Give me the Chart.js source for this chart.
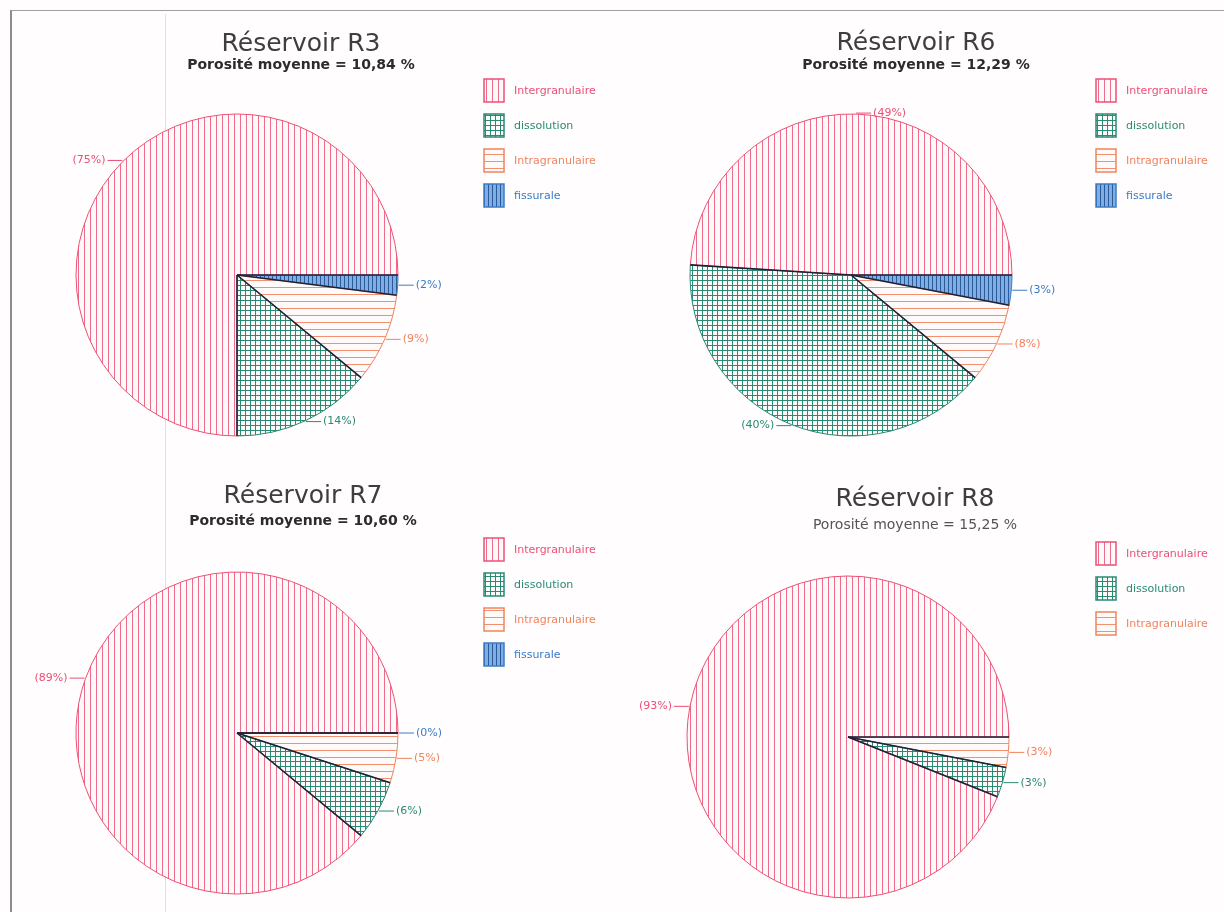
<!DOCTYPE html>
<html lang="fr">
<head>
<meta charset="utf-8">
<title>Porosité des réservoirs</title>
<script src="https://cdn.jsdelivr.net/npm/chart.js@4.4.0/dist/chart.umd.min.js"></script>
<style>
    html, body { margin: 0; padding: 0; background: #fffdfd; }
    body { width: 1224px; height: 912px; position: relative; overflow: hidden; font-family: 'DejaVu Sans', sans-serif; }
    .frame { position: absolute; left: 10px; top: 10px; width: 1240px; height: 940px; border-left: 2px solid #8c8c8c; border-top: 1px solid #a0a0a0; }
    .fold { position: absolute; left: 165px; top: 14px; width: 1px; height: 900px; background: #e4dfdf; }
    .panel { position: absolute; width: 612px; height: 456px; }
    .title { position: absolute; transform: translateX(-50%); white-space: nowrap; color: #3e3e3e; font-size: 25px; line-height: 1; }
    .sub { position: absolute; transform: translateX(-50%); white-space: nowrap; color: #2c2c2c; font-size: 14px; font-weight: bold; line-height: 1; }
    .sub.light { font-weight: normal; color: #555; }
</style>
</head>
<body>
<div class="frame"></div>
<div class="fold"></div>
<div id="charts"></div>

<script>
// ---- data ----
const categories = ['Intergranulaire', 'dissolution', 'Intragranulaire', 'fissurale'];
const r3Values = [75, 14, 9, 2];
const r6Values = [49, 40, 8, 3];
const r7Values = [89, 6, 5, 0];
const r8Values = [93, 3, 3];
const reservoirNames = ['Réservoir R3', 'Réservoir R6', 'Réservoir R7', 'Réservoir R8'];
const porosityTexts = ['Porosité moyenne = 10,84 %', 'Porosité moyenne = 12,29 %',
                       'Porosité moyenne = 10,60 %', 'Porosité moyenne = 15,25 %'];

const seriesColors = ['#ec4f76', '#2a8a74', '#f0845f', '#3b7cc8'];

// panel placement on the page (layout only)
const panels = [
    { left: 0,   top: 0,   cx: 237, cy: 275, legendTop: 79, titleX: 301, titleY: 30,  subY: 57,  bold: true },
    { left: 612, top: 0,   cx: 239, cy: 275, legendTop: 79, titleX: 916, titleY: 29,  subY: 57,  bold: true },
    { left: 0,   top: 456, cx: 237, cy: 277, legendTop: 82, titleX: 303, titleY: 482, subY: 513, bold: true },
    { left: 612, top: 456, cx: 236, cy: 281, legendTop: 86, titleX: 915, titleY: 485, subY: 517, bold: false }
];

function makePattern(kind, color) {
    const c = document.createElement('canvas');
    const size = kind === 'grid' ? 5 : kind === 'h' ? 7 : kind === 'blue' ? 4 : 6;
    c.width = size; c.height = size;
    const g = c.getContext('2d');
    g.fillStyle = kind === 'blue' ? '#7eaee3' : '#fffafa';
    g.fillRect(0, 0, size, size);
    g.fillStyle = color;
    if (kind === 'v') g.fillRect(0, 0, 1, size);
    if (kind === 'h') g.fillRect(0, 0, size, 1);
    if (kind === 'grid') { g.fillRect(0, 0, 1, size); g.fillRect(0, 0, size, 1); }
    if (kind === 'blue') { g.fillStyle = '#2c5a99'; g.fillRect(0, 0, 1, size); }
    return g.createPattern(c, 'repeat');
}

const patterns = [
    makePattern('v', '#f06a8a'),
    makePattern('grid', '#2a8a74'),
    makePattern('h', '#f3906f'),
    makePattern('blue', '#2c5a99')
];

// legend + outside labels + dark radial edges
const pieDecor = {
    id: 'pieDecor',
    afterDatasetsDraw(chart, args, opts) {
        const ctx = chart.ctx;
        const meta = chart.getDatasetMeta(0);
        const n = opts.count;
        ctx.save();

        // radial boundaries
        ctx.strokeStyle = '#1d2238';
        ctx.lineWidth = 1.6;
        meta.data.forEach(arc => {
            const p = arc.getProps(['x', 'y', 'startAngle', 'outerRadius'], true);
            ctx.beginPath();
            ctx.moveTo(p.x, p.y);
            ctx.lineTo(p.x + Math.cos(p.startAngle) * p.outerRadius, p.y + Math.sin(p.startAngle) * p.outerRadius);
            ctx.stroke();
        });

        // percentage labels with leader lines
        ctx.font = '11px "DejaVu Sans"';
        ctx.textBaseline = 'middle';
        ctx.lineWidth = 1;
        meta.data.forEach((arc, j) => {
            const k = n - 1 - j;
            const p = arc.getProps(['x', 'y', 'startAngle', 'endAngle', 'outerRadius'], true);
            const mid = (p.startAngle + p.endAngle) / 2;
            const ex = p.x + Math.cos(mid) * (p.outerRadius + 1);
            const ey = p.y + Math.sin(mid) * (p.outerRadius + 1);
            const dir = Math.cos(mid) >= 0 ? 1 : -1;
            ctx.strokeStyle = seriesColors[k];
            ctx.fillStyle = seriesColors[k];
            ctx.beginPath();
            ctx.moveTo(ex, ey);
            ctx.lineTo(ex + dir * 15, ey);
            ctx.stroke();
            ctx.textAlign = dir > 0 ? 'left' : 'right';
            ctx.fillText('(' + chart.data.datasets[0].data[j] + '%)', ex + dir * 17, ey);
        });

        // legend
        ctx.textAlign = 'left';
        for (let k = 0; k < n; k++) {
            const y = opts.legendTop + k * 35;
            ctx.fillStyle = patterns[k];
            ctx.fillRect(484, y, 20, 23);
            ctx.strokeStyle = seriesColors[k];
            ctx.lineWidth = 1.5;
            ctx.strokeRect(484, y, 20, 23);
            ctx.fillStyle = seriesColors[k];
            ctx.fillText(categories[k], 514, y + 12);
        }
        ctx.restore();
    }
};

const allValues = [r3Values, r6Values, r7Values, r8Values];
const host = document.getElementById('charts');

allValues.forEach((values, i) => {
    const pan = panels[i];
    const div = document.createElement('div');
    div.className = 'panel';
    div.style.left = pan.left + 'px';
    div.style.top = pan.top + 'px';
    div.innerHTML = '<canvas width="612" height="456"></canvas>';
    host.appendChild(div);

    const t = document.createElement('div');
    t.className = 'title';
    t.style.left = pan.titleX + 'px';
    t.style.top = pan.titleY + 'px';
    t.textContent = reservoirNames[i];
    host.appendChild(t);

    const s = document.createElement('div');
    s.className = 'sub' + (pan.bold ? '' : ' light');
    s.style.left = pan.titleX + 'px';
    s.style.top = pan.subY + 'px';
    s.textContent = porosityTexts[i];
    host.appendChild(s);

    // drawn clockwise from east, so feed the series in reverse order
    const n = values.length;
    const drawLabels = categories.slice(0, n).reverse();
    const drawData = values.slice().reverse();
    const drawFill = patterns.slice(0, n).reverse();
    const drawBorder = seriesColors.slice(0, n).reverse();

    new Chart(div.querySelector('canvas'), {
        type: 'pie',
        data: {
            labels: drawLabels,
            datasets: [{
                data: drawData,
                backgroundColor: drawFill,
                borderColor: drawBorder,
                borderWidth: 1
            }]
        },
        options: {
            responsive: false,
            animation: false,
            rotation: 90,
            radius: 161,
            layout: {
                padding: {
                    left: pan.cx - 170,
                    right: 612 - pan.cx - 170,
                    top: pan.cy - 170,
                    bottom: 456 - pan.cy - 170
                }
            },
            plugins: {
                legend: { display: false },
                tooltip: { enabled: false },
                pieDecor: { count: n, legendTop: pan.legendTop }
            }
        },
        plugins: [pieDecor]
    });
});
</script>
</body>
</html>
